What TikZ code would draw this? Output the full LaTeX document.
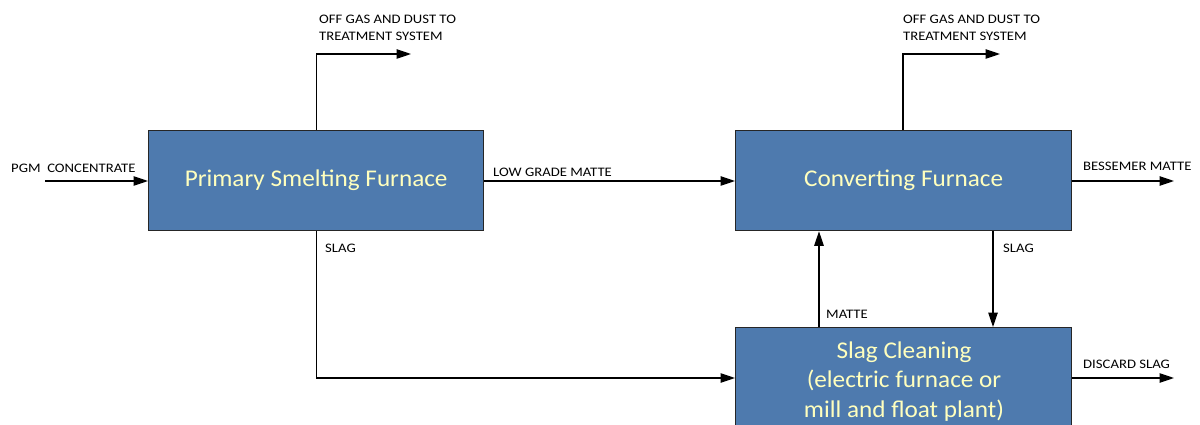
\documentclass[tikz,border=0pt]{standalone}
\usepackage{fontspec}
\setmainfont{Carlito}
\newfontfamily\lblfont[FakeStretch=1.13]{Carlito}
\newfontfamily\boxfont[FakeStretch=1.05]{Carlito}
\usetikzlibrary{arrows.meta,positioning,calc}
\definecolor{boxblue}{HTML}{4E7AAE}
\definecolor{boxtext}{HTML}{FFFFBE}
\begin{document}
\begin{tikzpicture}[x=1pt,y=-1pt,
  proc/.style={draw=black!85,line width=1.3pt,fill=boxblue,text=boxtext,font=\boxfont\fontsize{24}{29.5}\selectfont,align=center,inner sep=0pt,anchor=north west},
  lbl/.style={font=\lblfont\fontsize{13}{17}\selectfont,inner sep=0pt,anchor=base west,align=left},
  flow/.style={line width=1.2pt,-{Triangle[length=14.5pt,width=9.5pt]}}]
\useasboundingbox (0,0) rectangle (1200,425);
\clip (0,0) rectangle (1200,425);
\node[proc,minimum width=335pt,minimum height=100pt] (psf) at (148,130) {Primary Smelting Furnace};
\node[proc,minimum width=336pt,minimum height=100pt] (cf) at (735,130) {Converting Furnace};
\node[proc,minimum width=336pt,minimum height=110pt] (sc) at (735,327) {};
\node[text=boxtext,font=\boxfont\fontsize{24}{29.5}\selectfont,align=center,anchor=base,inner sep=0pt] (sctext) at (904,417) {Slag Cleaning\\(electric furnace or\\mill and float plant)};
% coordinates
\coordinate (pgmin) at (45,181);
\coordinate (og1) at (411,54);
\coordinate (og2) at (1000,54);
\coordinate (bm) at (1174,181);
\coordinate (ds) at (1174,378);
% arrows
\draw[flow] (pgmin) -- (psf.west |- pgmin);
\draw[flow] (psf.north) -- (psf.north |- og1) -- (og1);
\draw[flow] (psf.east |- pgmin) -- (cf.west |- pgmin);
\draw[flow] (cf.north -| 903,0) -- (903,54) -- (og2);
\draw[flow] (cf.east |- bm) -- (bm);
\draw[flow] (psf.south) -- (psf.south |- ds) -- (sc.west |- ds);
\draw[flow] (sc.north -| 819,0) -- (cf.south -| 819,0);
\draw[flow] (cf.south -| 993,0) -- (sc.north -| 993,0);
\draw[flow] (sc.east |- ds) -- (ds);
% labels
\node[lbl] (l1a) at (319,24) {OFF GAS AND DUST TO};
\node[lbl] (l1b) at (319,41) {TREATMENT SYSTEM};
\node[lbl] (l2a) at (903,24) {OFF GAS AND DUST TO};
\node[lbl] (l2b) at (903,41) {TREATMENT SYSTEM};
\node[lbl] (l3) at (11,173) {PGM\ \ CONCENTRATE};
\node[lbl] (l4) at (493,176) {LOW GRADE MATTE};
\node[lbl] (l5) at (1083,171) {BESSEMER MATTE};
\node[lbl] (l6) at (325,252) {SLAG};
\node[lbl] (l7) at (1003,252) {SLAG};
\node[lbl] (l8) at (826,318) {MATTE};
\node[lbl] (l9) at (1083,368) {DISCARD SLAG};
\end{tikzpicture}
\end{document}
